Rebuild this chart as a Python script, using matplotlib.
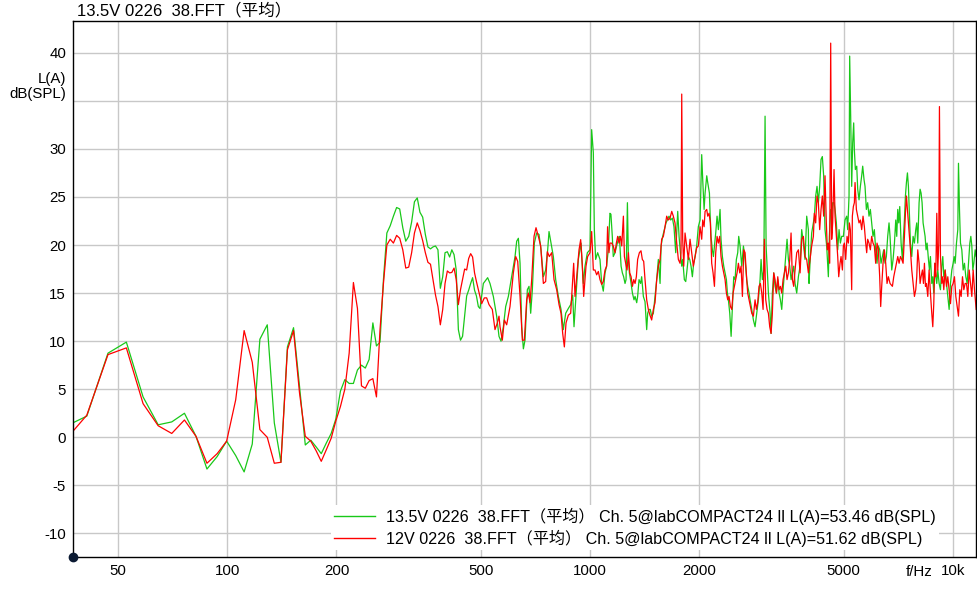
import matplotlib
matplotlib.use('Agg')
import matplotlib.pyplot as plt
from matplotlib.ticker import FixedLocator, FixedFormatter, NullLocator

plt.rcParams['font.family'] = ['Liberation Sans', 'Noto Sans CJK SC']
plt.rcParams['font.size'] = 10.8
plt.rcParams['axes.unicode_minus'] = False

# --- data: FFT bins below 500 Hz (shared by both curves) ---
low_hz = [35.2, 41.0, 46.9, 52.7, 58.6, 64.5, 70.3, 76.2, 82.0, 87.9, 93.8, 99.6,
          105.5, 111.3, 117.2, 123.0, 128.9, 134.8, 140.6, 146.5, 152.3, 158.2,
          164.1, 169.9, 175.8, 181.6, 187.5, 193.4, 199.2, 205.1, 210.9, 216.8,
          222.7, 228.5, 234.4, 240.2, 246.1, 252.0, 257.8, 263.7, 269.5, 275.4,
          281.3, 287.1, 293.0, 298.8, 304.7, 310.5, 316.4, 322.3, 328.1, 334.0,
          339.8, 345.7, 351.6, 357.4, 363.3, 369.1, 375.0, 380.9, 386.7, 392.6,
          398.4, 404.3, 410.2, 416.0, 421.9, 427.7, 433.6, 439.5, 445.3, 451.2,
          457.0, 462.9, 468.8, 474.6, 480.5, 486.3, 492.2]
green_low = [1.0, 2.2, 8.75, 9.9, 4.2, 1.3, 1.6, 2.5, 0.1, -3.3, -2.0, -0.4,
             -1.9, -3.6, -0.7, 10.2, 11.7, 1.5, -2.6, 9.4, 11.4, 5.3,
             -0.8, -0.3, -1.0, -1.7, -0.6, 0.4, 1.9, 4.8, 6.0, 5.6,
             5.6, 7.0, 7.5, 7.2, 8.1, 11.9, 9.5, 9.9, 16.4, 21.25,
             22.0, 23.0, 23.9, 23.75, 21.8, 20.4, 20.9, 22.4, 24.5, 24.9,
             23.4, 22.9, 21.1, 19.8, 19.6, 19.8, 19.9, 19.5, 15.5, 16.7,
             19.2, 19.3, 18.75, 19.5, 19.0, 17.4, 11.2, 10.1, 10.5, 12.6,
             14.7, 15.3, 16.0, 16.6, 15.3, 14.7, 13.6]
red_low = [-0.6, 2.3, 8.6, 9.3, 3.5, 1.2, 0.4, 1.8, 0.1, -2.7, -1.7, -0.4,
           3.9, 11.1, 7.8, 0.8, 0.0, -2.7, -2.6, 9.1, 11.1, 4.6,
           0.1, -0.4, -1.4, -2.5, -1.3, -0.1, 1.7, 3.2, 5.0, 8.75,
           16.1, 13.4, 5.35, 5.1, 5.9, 6.1, 4.2, 11.2, 16.0, 20.0,
           20.6, 20.2, 21.0, 20.7, 19.5, 17.6, 17.7, 19.2, 21.25, 22.3,
           21.5, 20.45, 19.2, 18.2, 18.0, 16.4, 14.8, 13.6, 11.7, 13.3,
           16.0, 17.3, 17.1, 17.15, 17.6, 16.4, 13.8, 15.35, 16.4, 17.5,
           17.4, 18.6, 19.1, 18.75, 17.1, 16.2, 15.35]

# --- green curve (13.5V) above 500 Hz ---
green_hz_1k = [497.4, 508.1, 522.2, 530.0, 541.4, 552.9, 561.2, 568.4, 576.9, 585.5,
               595.5, 608.3, 621.3, 627.9, 634.6, 641.4, 648.2, 655.1, 661.9, 671.8,
               679.0, 686.2, 693.5, 702.4, 712.8, 723.5, 732.7, 743.7, 754.7, 764.4,
               770.9, 780.8, 792.4, 804.2, 818.0, 831.9, 844.3, 856.9, 871.5, 884.5,
               895.8, 903.4, 914.9, 928.6, 944.5, 958.5, 968.7, 983.2, 999.9, 1010.5,
               1021.3, 1027.8, 1036.5, 1049.7, 1065.4]
green_db_1k = [13.4, 16.0, 16.6, 16.0, 14.65, 12.6, 10.5, 10.0, 11.5, 13.6,
               14.65, 16.7, 18.8, 20.4, 20.7, 18.1, 11.5, 9.2, 10.1, 15.35,
               15.7, 12.9, 15.35, 20.2, 21.25, 21.1, 19.5, 16.7, 17.4, 19.5,
               21.4, 20.2, 18.8, 16.4, 14.65, 13.3, 11.2, 12.9, 13.4, 13.8,
               14.8, 11.5, 14.65, 18.5, 20.2, 16.0, 17.8, 19.2, 19.5, 32.0,
               29.6, 21.6, 18.5, 19.2, 18.5]
green_hz_2k = [1077, 1088, 1100, 1111, 1123, 1135, 1142, 1152, 1159, 1172,
               1184, 1197, 1205, 1218, 1228, 1238, 1249, 1257, 1268, 1276,
               1284, 1298, 1309, 1322, 1331, 1345, 1353, 1365, 1379, 1388,
               1403, 1418, 1433, 1442, 1454, 1466, 1479, 1495, 1511, 1527,
               1543, 1560, 1570, 1586, 1603, 1620, 1634, 1651, 1669, 1687,
               1704, 1723, 1734, 1745, 1760, 1775, 1790, 1801, 1820, 1836,
               1851, 1867, 1883, 1899, 1915, 1931, 1948, 1968, 1989]
green_db_2k = [16.0, 15.2, 17.1, 17.8, 19.5, 23.3, 23.2, 20.9, 18.8, 19.2,
               19.9, 20.6, 20.9, 17.8, 17.1, 16.7, 16.0, 16.4, 24.4, 18.5,
               17.1, 16.0, 15.0, 14.3, 14.65, 14.0, 14.65, 16.4, 16.0, 16.7,
               14.65, 14.1, 11.2, 12.9, 13.3, 13.3, 12.6, 12.9, 14.65, 16.4,
               18.5, 16.0, 19.9, 20.9, 21.6, 22.3, 22.6, 23.0, 22.6, 22.8,
               21.9, 19.2, 21.25, 23.5, 20.9, 19.2, 17.8, 18.5, 16.4, 16.2,
               17.4, 18.8, 18.5, 17.8, 16.7, 18.1, 18.8, 19.9, 21.9]
green_hz_4k = [2011, 2032, 2045, 2063, 2076, 2098, 2111, 2134, 2143, 2156,
               2174, 2189, 2203, 2221, 2240, 2259, 2283, 2297, 2317, 2337,
               2357, 2377, 2392, 2407, 2428, 2449, 2469, 2490, 2511, 2532,
               2554, 2570, 2592, 2620, 2648, 2676, 2704, 2721, 2745, 2762,
               2792, 2821, 2851, 2881, 2912, 2943, 2962, 2987, 3013, 3038,
               3058, 3083, 3103, 3136, 3156, 3182, 3210, 3237, 3265, 3293,
               3321, 3349, 3377, 3406, 3435, 3464, 3493, 3523, 3553, 3583,
               3613, 3644, 3675, 3714, 3754, 3794]
green_db_4k = [22.6, 29.4, 26.8, 23.7, 25.4, 27.2, 26.5, 25.4, 23.3, 20.9,
               19.5, 18.8, 19.9, 21.25, 23.0, 21.6, 23.7, 20.6, 18.8, 17.8,
               17.1, 16.4, 15.0, 14.3, 12.9, 10.5, 13.6, 16.7, 16.4, 18.5,
               19.2, 20.9, 19.9, 17.8, 19.9, 18.5, 16.4, 15.7, 15.0, 14.3,
               13.3, 12.2, 11.5, 12.9, 14.3, 16.4, 18.5, 16.4, 17.4, 33.4,
               19.9, 17.1, 15.0, 12.9, 10.8, 15.0, 17.1, 15.7, 15.0, 16.4,
               15.0, 14.3, 13.3, 15.35, 17.1, 18.8, 20.6, 18.5, 17.8, 16.4,
               17.1, 17.8, 16.0, 15.0, 16.7, 17.8]
green_hz_7k = [3833, 3874, 3915, 3957, 3999, 4016, 4041, 4084, 4128, 4154,
               4189, 4225, 4261, 4297, 4334, 4370, 4407, 4445, 4492, 4540,
               4569, 4608, 4637, 4667, 4707, 4737, 4777, 4818, 4859, 4900,
               4942, 4994, 5047, 5101, 5133, 5177, 5198, 5231, 5265, 5298,
               5332, 5355, 5389, 5436, 5470, 5516, 5563, 5610, 5646, 5694,
               5730, 5779, 5827, 5877, 5927, 5977, 6028, 6079, 6131, 6183,
               6236, 6289, 6343, 6397, 6451, 6506, 6561, 6617, 6673, 6716]
green_db_7k = [21.6, 20.2, 18.5, 23.0, 21.6, 16.0, 18.1, 21.25, 22.3, 23.0,
               25.1, 26.1, 24.4, 26.1, 28.9, 29.2, 27.2, 21.6, 19.9, 16.7,
               20.9, 23.7, 23.0, 24.4, 24.4, 23.7, 22.3, 19.5, 21.6, 20.2,
               20.9, 20.9, 22.6, 23.0, 21.6, 25.1, 39.65, 33.4, 26.1, 30.6,
               32.7, 29.9, 27.85, 28.2, 25.8, 24.7, 26.1, 27.2, 28.2, 26.8,
               26.1, 23.7, 24.4, 23.0, 23.7, 22.3, 20.9, 21.6, 19.5, 18.1,
               19.9, 19.5, 18.1, 18.8, 19.5, 18.1, 18.8, 20.9, 22.3, 20.9]
green_hz_12k = [6789, 6847, 6906, 6964, 7008, 7053, 7098, 7143, 7204, 7265,
                7312, 7358, 7405, 7452, 7500, 7547, 7595, 7644, 7709, 7774,
                7841, 7907, 7957, 8008, 8076, 8128, 8179, 8231, 8284, 8337,
                8390, 8443, 8497, 8570, 8624, 8679, 8753, 8809, 8865, 8922,
                8979, 9036, 9093, 9171, 9249, 9328, 9387, 9447, 9528, 9609,
                9691, 9773, 9856, 9940, 10024, 10089, 10153, 10239, 10326, 10370,
                10436, 10503, 10592, 10682, 10773, 10865, 10957, 11051, 11145, 11216,
                11287, 11359, 11431, 11529, 11602]
green_db_12k = [17.4, 18.5, 20.2, 22.6, 20.9, 23.7, 22.3, 24.0, 20.2, 18.5,
                20.9, 22.6, 25.1, 26.5, 27.5, 26.1, 23.0, 20.2, 18.8, 20.9,
                20.2, 21.6, 22.3, 20.2, 24.4, 25.8, 25.4, 24.4, 22.3, 21.6,
                20.9, 19.5, 20.2, 18.5, 17.4, 18.8, 16.0, 16.7, 15.0, 18.1,
                16.7, 16.0, 17.4, 16.0, 15.35, 17.8, 18.8, 16.7, 17.4, 16.0,
                14.65, 13.3, 16.0, 17.4, 18.1, 18.8, 18.1, 20.2, 21.6, 28.5,
                23.7, 20.2, 19.5, 17.4, 18.1, 16.7, 16.0, 18.1, 20.2, 20.9,
                19.9, 17.4, 18.1, 19.5, 18.8]

# --- red curve (12V) above 500 Hz ---
red_hz_1k = [502.7, 511.3, 518.9, 526.7, 537.9, 547.1, 555.3, 561.2, 564.8, 573.2,
             580.5, 589.2, 601.8, 614.7, 623.9, 631.9, 641.4, 650.9, 659.2, 669.0,
             676.1, 683.3, 690.6, 700.9, 709.8, 720.4, 731.2, 743.7, 754.7, 762.8,
             772.5, 784.1, 795.8, 809.3, 821.5, 831.9, 840.8, 849.7, 858.8, 871.5,
             884.5, 893.9, 901.5, 909.2, 918.8, 932.6, 942.5, 952.5, 960.6, 974.9,
             985.2, 999.9, 1010.5, 1021.3, 1032.1, 1043.1, 1054.2, 1065.4]
red_db_1k = [13.9, 14.5, 14.5, 13.8, 13.3, 11.2, 11.9, 12.6, 11.5, 10.1,
             12.2, 11.7, 13.6, 17.1, 18.8, 18.3, 14.65, 10.1, 10.1, 14.3,
             15.0, 14.0, 16.4, 20.9, 21.8, 20.9, 19.9, 16.0, 16.2, 19.3,
             18.8, 19.2, 16.4, 15.35, 13.8, 12.9, 10.8, 9.4, 11.9, 12.7,
             12.9, 15.7, 18.1, 14.65, 16.7, 19.5, 20.56, 17.8, 14.65, 17.8,
             18.8, 19.2, 21.4, 17.4, 17.4, 16.9, 17.25, 16.4]
red_hz_2k = [1077, 1088, 1100, 1111, 1118, 1128, 1135, 1147, 1159, 1172,
             1182, 1192, 1202, 1213, 1223, 1236, 1244, 1254, 1265, 1276,
             1287, 1298, 1309, 1320, 1331, 1342, 1353, 1368, 1382, 1394,
             1406, 1418, 1433, 1448, 1463, 1479, 1495, 1511, 1527, 1543,
             1560, 1576, 1593, 1610, 1627, 1644, 1662, 1680, 1697, 1715,
             1734, 1752, 1771, 1782, 1790, 1801, 1813, 1828, 1847, 1867,
             1887, 1907, 1927, 1948, 1968, 1989]
red_db_2k = [15.9, 16.2, 17.4, 17.8, 21.9, 19.2, 20.2, 20.2, 19.9, 19.2,
             20.2, 20.9, 20.2, 20.9, 19.9, 23.0, 18.8, 18.1, 17.4, 19.2,
             17.1, 16.7, 15.7, 16.4, 16.0, 16.7, 18.5, 19.2, 19.4, 18.5,
             18.3, 16.4, 14.3, 13.3, 12.7, 12.2, 13.3, 14.0, 16.4, 17.8,
             18.5, 20.6, 20.9, 21.9, 23.0, 22.6, 22.8, 23.5, 23.0, 22.3,
             20.2, 18.5, 18.1, 19.2, 35.7, 20.6, 17.8, 21.25, 19.9, 18.5,
             20.6, 19.2, 17.8, 18.8, 19.7, 19.9]
red_hz_4k = [2011, 2032, 2045, 2063, 2076, 2098, 2111, 2129, 2147, 2165,
             2184, 2203, 2221, 2240, 2259, 2278, 2297, 2317, 2337, 2357,
             2377, 2397, 2417, 2438, 2459, 2480, 2500, 2521, 2543, 2565,
             2587, 2609, 2631, 2654, 2676, 2704, 2721, 2745, 2768, 2792,
             2821, 2851, 2875, 2899, 2924, 2949, 2975, 3000, 3025, 3051,
             3077, 3103, 3129, 3156, 3182, 3210, 3237, 3265, 3293, 3321,
             3349, 3377, 3406, 3435, 3464, 3493, 3523, 3553, 3583, 3613,
             3644, 3675, 3714, 3754, 3794]
red_db_4k = [21.9, 20.6, 22.6, 21.9, 23.5, 23.7, 23.0, 23.3, 22.3, 18.1,
             17.1, 15.7, 19.2, 20.9, 20.2, 20.9, 18.8, 17.8, 17.1, 16.4,
             15.0, 14.3, 14.65, 13.6, 13.3, 15.0, 15.7, 16.4, 17.1, 18.1,
             17.1, 17.8, 14.65, 19.5, 19.2, 16.4, 15.0, 14.3, 13.6, 12.9,
             12.6, 14.3, 13.3, 14.0, 15.7, 16.0, 15.0, 13.3, 20.6, 14.3,
             13.3, 12.9, 11.5, 10.8, 12.9, 17.1, 16.4, 15.0, 16.7, 15.35,
             15.7, 15.0, 16.4, 17.1, 17.8, 16.4, 17.1, 18.5, 21.25, 16.4,
             15.7, 17.4, 19.2, 19.5, 17.1]
red_hz_7k = [3833, 3874, 3915, 3957, 3999, 4041, 4084, 4128, 4154, 4189,
             4225, 4261, 4297, 4334, 4370, 4407, 4445, 4482, 4511, 4540,
             4579, 4608, 4637, 4667, 4707, 4737, 4777, 4818, 4849, 4890,
             4921, 4963, 4994, 5026, 5068, 5112, 5155, 5187, 5220, 5265,
             5287, 5321, 5355, 5378, 5424, 5470, 5516, 5563, 5610, 5658,
             5706, 5755, 5791, 5827, 5877, 5927, 5977, 6028, 6079, 6131,
             6183, 6236, 6289, 6329, 6370, 6424, 6479, 6534, 6589, 6645,
             6716]
red_db_7k = [20.6, 20.9, 18.8, 18.5, 17.1, 18.5, 19.9, 20.9, 23.3, 22.3,
             25.1, 24.4, 21.6, 23.7, 25.1, 23.0, 27.2, 22.3, 19.5, 20.2,
             18.1, 41.0, 20.6, 22.3, 27.85, 23.0, 20.9, 18.8, 16.7, 18.1,
             18.8, 17.4, 19.9, 20.2, 18.5, 20.9, 20.2, 22.3, 21.6, 15.35,
             23.0, 24.0, 24.4, 26.5, 23.7, 23.0, 22.3, 22.6, 21.6, 23.0,
             21.9, 20.2, 19.2, 20.6, 20.2, 19.5, 20.9, 20.2, 19.9, 18.1,
             20.2, 19.5, 16.7, 13.6, 15.7, 18.1, 19.5, 18.1, 16.0, 16.7,
             16.0]
red_hz_12k = [6818, 6876, 6935, 6994, 7053, 7113, 7173, 7234, 7296, 7358,
              7405, 7452, 7500, 7547, 7595, 7644, 7709, 7774, 7841, 7907,
              7957, 8008, 8076, 8128, 8179, 8249, 8302, 8355, 8408, 8461,
              8534, 8606, 8679, 8753, 8809, 8865, 8922, 8979, 9036, 9093,
              9151, 9190, 9249, 9328, 9387, 9447, 9528, 9609, 9691, 9773,
              9856, 9940, 10024, 10110, 10196, 10283, 10370, 10459, 10548, 10637,
              10728, 10819, 10911, 11004, 11097, 11192, 11287, 11383, 11480, 11602]
red_db_12k = [15.7, 16.7, 17.4, 18.1, 18.8, 18.1, 18.8, 18.5, 18.1, 20.9,
              23.3, 25.1, 23.7, 22.3, 20.9, 19.5, 17.4, 16.0, 14.65, 15.35,
              16.7, 19.5, 18.1, 16.0, 16.7, 17.4, 16.0, 18.1, 15.7, 16.0,
              14.65, 17.4, 15.0, 12.9, 11.5, 13.9, 18.1, 16.7, 23.3, 17.4,
              20.2, 34.4, 18.8, 16.0, 16.7, 15.35, 17.4, 15.7, 16.7, 15.35,
              13.9, 15.7, 16.0, 16.7, 14.65, 13.6, 12.6, 15.35, 14.65, 16.7,
              15.35, 16.0, 16.0, 14.65, 17.4, 16.0, 14.65, 17.4, 15.35, 13.3]

green_label = '13.5V 0226  38.FFT（平均） Ch. 5@labCOMPACT24 ll L(A)=53.46 dB(SPL)'
red_label = '12V 0226  38.FFT（平均） Ch. 5@labCOMPACT24 ll L(A)=51.62 dB(SPL)'
title_text = '13.5V 0226  38.FFT（平均）'

x_ticks = [50, 100, 200, 500, 1000, 2000, 5000, 10000]
x_tick_labels = ['50', '100', '200', '500', '1000', '2000', '5000', '10k']
y_ticks = [-10, -5, 0, 5, 10, 15, 20, 25, 30, 35, 40]
# the 35 slot is taken by the unit label
y_tick_labels = ['-10', '-5', '0', '5', '10', '15', '20', '25', '30', '', '40']

green_f = low_hz + green_hz_1k + green_hz_2k + green_hz_4k + green_hz_7k + green_hz_12k
green_l = green_low + green_db_1k + green_db_2k + green_db_4k + green_db_7k + green_db_12k
red_f = low_hz + red_hz_1k + red_hz_2k + red_hz_4k + red_hz_7k + red_hz_12k
red_l = red_low + red_db_1k + red_db_2k + red_db_4k + red_db_7k + red_db_12k
n_g = min(len(green_f), len(green_l))
n_r = min(len(red_f), len(red_l))

# --- figure ---
W, H = 978, 590
fig = plt.figure(figsize=(W / 100, H / 100), dpi=100)
ax = fig.add_axes([73 / W, (H - 556.7) / H, (976 - 73) / W, (556.7 - 21) / H])

ax.plot(green_f[:n_g], green_l[:n_g], color='#19c819', lw=0.9, label=green_label)
ax.plot(red_f[:n_r], red_l[:n_r], color='#ff0000', lw=0.9, label=red_label)

ax.set_xscale('log')
ax.set_xlim(37.56, 11590)
ax.set_ylim(-12.42, 43.3)
ax.xaxis.set_major_locator(FixedLocator(x_ticks))
ax.xaxis.set_major_formatter(FixedFormatter(x_tick_labels))
ax.xaxis.set_minor_locator(NullLocator())
ax.yaxis.set_major_locator(FixedLocator(y_ticks))
ax.yaxis.set_major_formatter(FixedFormatter(y_tick_labels))
ax.tick_params(length=0, pad=5, labelsize=10.8, colors='black')
ax.grid(True, color='#c8c8c8', lw=1.0)
ax.set_axisbelow(True)
for s in ax.spines.values():
    s.set_color('black')
    s.set_linewidth(1.0)

# dot at the origin corner
ax.plot([0], [0], 'o', transform=ax.transAxes, ms=6, color='#0b1a33',
        clip_on=False, zorder=6)

leg = ax.legend(loc='lower left', bbox_to_anchor=(331 / W, 40 / H),
                bbox_transform=fig.transFigure, fontsize=11.65, frameon=True,
                fancybox=False, framealpha=1, facecolor='white', edgecolor='none',
                borderpad=0.2, borderaxespad=0, handlelength=2.55,
                handletextpad=0.68, labelspacing=0.28)
for line in leg.get_lines():
    line.set_linewidth(1.0)

fig.text(77 / W, 1 - 10 / H, title_text, ha='left', va='center', fontsize=12)
fig.text(66 / W, 1 - 79 / H, 'L(A)', ha='right', va='center', fontsize=10.8)
fig.text(66 / W, 1 - 94 / H, 'dB(SPL)', ha='right', va='center', fontsize=10.8)
fig.text(919 / W, 1 - 572 / H, 'f/Hz', ha='center', va='center', fontsize=10.8)

fig.savefig('out.png', dpi=100)
